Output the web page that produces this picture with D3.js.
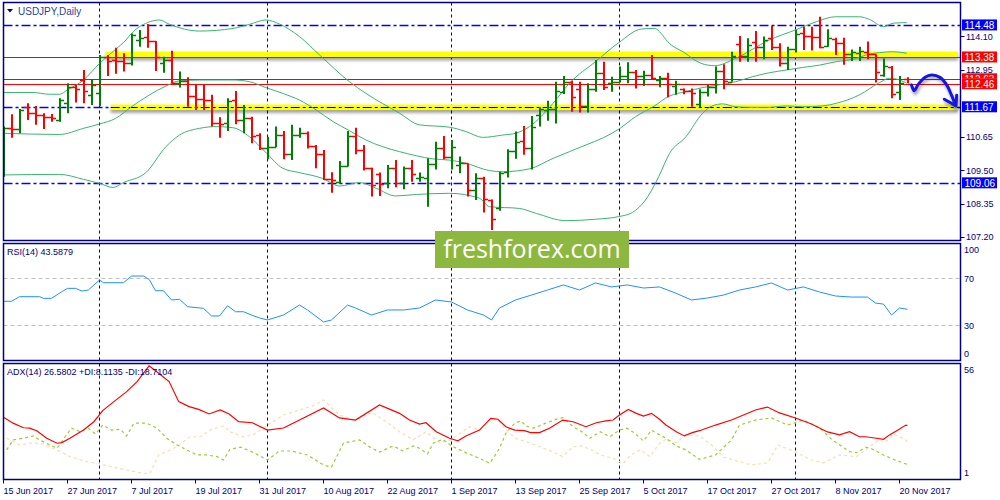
<!DOCTYPE html>
<html><head><meta charset="utf-8">
<script src="https://cdn.jsdelivr.net/npm/d3@7"></script>
<style>body{margin:0;background:#fff}svg{display:block}</style>
</head><body><svg id="c" width="1000" height="500"></svg>
<script>
// ---------------- DATA ----------------
const symbolTitle = "USDJPY,Daily";
const rsiTitle = "RSI(14) 43.5879";
const adxTitle = "ADX(14) 26.5802 +DI:8.1135 -DI:18.7104";
const xTickIdx = [0,8,16,24,32,40,48,56,64,72,80,88,96,104,112];
const xTickLabels = ["15 Jun 2017","27 Jun 2017","7 Jul 2017","19 Jul 2017","31 Jul 2017","10 Aug 2017","22 Aug 2017","1 Sep 2017","13 Sep 2017","25 Sep 2017","5 Oct 2017","17 Oct 2017","27 Oct 2017","8 Nov 2017","20 Nov 2017"];
const monthStartIdx = [12,33,56,77,99];
const priceTicks = [114.10,112.95,110.65,109.50,108.35,107.20];
const rsiTicks = [100,70,30,0];
const rsiLevels = [70,30];
const adxTicks = [56,1];

const open = [109.84,110.93,110.90,111.65,111.45,111.39,111.33,111.22,111.79,112.34,
112.59,112.08,112.13,113.39,113.28,113.25,113.16,113.96,114.08,113.93,
113.19,113.28,112.50,112.57,112.05,111.94,111.90,111.12,111.10,111.90,
111.22,111.27,110.70,110.24,110.30,110.70,110.04,110.70,110.76,110.34,
110.04,109.18,109.10,109.65,110.67,110.19,109.56,109.36,109.07,109.56,
109.07,109.56,109.21,109.21,109.71,110.24,109.96,109.67,109.73,108.81,
109.21,108.47,108.18,109.44,110.16,110.51,110.27,111.39,111.56,111.58,
112.19,112.53,112.27,111.70,112.27,112.82,112.48,112.53,112.73,112.88,
112.73,112.76,112.59,112.65,112.38,112.27,112.21,111.77,112.19,112.34,
112.91,112.53,113.81,113.43,113.88,113.73,114.04,113.73,113.19,113.64,
114.19,114.10,114.08,113.76,113.99,113.85,113.47,113.51,113.56,113.47,
112.76,113.05,112.19,112.61];
const high = [110.99,111.41,111.59,111.79,111.70,111.45,111.42,111.96,112.48,112.42,
112.93,112.59,113.45,113.45,113.70,113.51,114.19,114.31,114.51,113.93,
113.39,113.59,112.88,112.68,112.42,112.42,112.08,111.31,111.96,112.21,
111.73,111.33,110.76,110.64,110.99,110.84,111.05,110.95,110.82,110.36,
110.19,109.42,109.81,110.84,110.95,110.36,109.58,109.41,109.67,109.84,
109.62,109.84,109.41,109.90,110.47,110.67,110.53,109.96,109.73,109.39,
109.27,108.49,109.44,110.21,110.82,111.01,111.35,111.65,111.88,112.53,
112.73,112.56,112.53,112.48,113.28,113.22,112.70,113.05,113.20,112.93,
112.91,113.45,112.73,112.84,112.56,112.30,112.30,112.27,112.42,113.05,
113.13,113.56,114.10,114.02,114.27,114.08,114.44,113.85,113.73,114.31,
114.42,114.42,114.76,114.33,114.04,114.04,113.64,113.73,113.91,113.47,
113.33,113.07,112.73,112.68];
const low = [109.27,110.61,110.76,111.22,111.05,110.91,111.16,111.16,111.45,111.82,
111.79,111.73,111.70,112.73,112.80,112.88,113.09,113.73,113.70,112.90,
112.84,112.48,112.33,111.67,111.56,111.56,110.99,110.61,110.84,111.07,
110.76,110.42,110.19,109.87,110.28,109.87,109.84,110.61,110.24,109.56,
109.16,108.72,109.04,109.62,110.04,109.48,108.59,108.61,108.87,108.91,
108.84,109.10,109.10,108.24,109.52,109.87,109.52,109.39,108.59,108.47,
108.04,107.44,108.10,109.24,109.89,110.02,109.52,110.99,111.19,111.10,
112.11,111.50,111.47,111.47,112.19,112.25,112.19,112.50,112.48,112.30,
112.38,112.61,112.34,112.00,112.08,112.10,111.67,111.65,112.02,112.13,
112.27,112.53,113.22,113.22,113.22,113.30,113.62,113.05,112.93,113.53,
113.62,113.60,113.68,113.73,113.45,113.11,113.24,113.24,113.30,112.50,
112.70,111.96,111.90,112.48];
const close = [110.93,110.90,111.56,111.47,111.39,111.33,111.27,111.90,112.34,112.27,
112.22,112.42,113.39,113.25,113.25,113.19,114.14,114.02,113.93,113.39,
113.28,112.50,112.56,112.05,111.94,111.90,111.10,111.08,111.88,111.22,
111.27,110.67,110.24,110.30,110.70,110.04,110.70,110.76,110.34,110.04,
109.18,109.16,109.65,110.67,110.19,109.56,108.99,109.01,109.56,109.07,
109.56,109.35,109.27,109.71,110.24,109.96,110.30,109.75,108.81,109.21,
108.49,107.81,109.41,110.16,110.47,110.27,110.99,111.58,111.61,112.21,
112.53,112.00,111.70,112.27,112.84,112.34,112.53,112.73,112.88,112.73,
112.76,112.65,112.65,112.45,112.44,112.21,112.16,112.19,112.36,112.91,
112.57,113.41,113.43,113.79,113.73,113.96,113.73,113.19,113.64,114.17,
114.10,114.08,113.71,114.02,113.85,113.47,113.54,113.60,113.47,112.88,
113.08,112.10,112.50,112.46];

// Bollinger bands: [bar index, price]
const bbUpper = [[0,112.16],[3.7,112.16],[5.75,112.10],[7,112.10],[8,112.25],[10,112.59],[12,113.16],[14,113.64],[15.3,113.96],[16,114.19],[18,114.56],[19.5,114.65],[20.75,114.50],[24.5,114.27],[28.7,114.36],[30.75,114.50],[32.8,114.65],[34.5,114.51],[37,114.08],[39.5,113.45],[43.25,112.53],[45.3,112.13],[49.5,111.45],[52,111.05],[55.75,110.97],[57.8,110.82],[59.9,110.62],[62.4,110.70],[64,110.76],[65.75,110.99],[68.7,111.79],[70.75,112.48],[74,113.22],[76.9,113.87],[79.75,114.34],[81.4,114.36],[82.2,114.19],[83,113.91],[85.1,113.53],[87.2,113.16],[88.9,113.08],[91.5,113.33],[95.7,113.96],[99,114.31],[101.6,114.59],[104,114.76],[107,114.76],[108.25,114.67],[110,114.42],[111.25,114.54],[112.9,114.56]];
const bbMiddle = [[0,110.76],[7,110.72],[10,110.93],[12,111.08],[14,111.27],[16,111.67],[18.25,112.08],[20.3,112.38],[22,112.56],[24.5,112.59],[28.7,112.59],[30.75,112.53],[32.8,112.33],[34.9,112.13],[37,111.90],[39.1,111.56],[41.2,111.16],[43.25,110.85],[45.3,110.53],[47.4,110.30],[49.5,110.13],[51.6,109.99],[53.7,109.88],[55.75,109.84],[57.8,109.73],[60.75,109.48],[62.4,109.44],[65.75,109.54],[68.7,109.90],[70.75,110.13],[72.8,110.36],[75,110.61],[76.9,110.90],[79,111.33],[81.2,111.67],[83.25,112.04],[85.3,112.19],[87.4,112.33],[89.4,112.42],[91.5,112.53],[93.6,112.70],[95.75,112.84],[97.8,112.93],[99.9,113.02],[102,113.10],[104.1,113.22],[106.2,113.30],[108.25,113.48],[109.5,113.53],[111.2,113.56],[112.9,113.51]];
const bbLower = [[0,109.33],[7,109.35],[10,109.18],[12,109.04],[13.7,108.90],[15,109.07],[17.8,109.41],[20.3,110.30],[22,110.70],[24.5,110.93],[26.6,110.99],[28.7,110.95],[30.75,110.64],[32.8,110.10],[34.9,109.56],[37,109.41],[39.9,109.21],[42,108.95],[44.5,109.07],[46.6,108.87],[49,108.61],[51.6,108.66],[55.75,108.70],[59.5,108.53],[60.75,108.24],[64.5,108.18],[66.6,108.01],[70.3,107.76],[74,107.81],[76.9,107.90],[78.6,108.04],[80.25,108.47],[81.9,109.27],[83.25,110.07],[85.3,110.64],[87.4,111.45],[88.6,111.70],[89.9,111.77],[91.5,111.67],[93.6,111.65],[95.75,111.65],[97.8,111.70],[99.9,111.67],[102.4,111.70],[104.1,111.79],[107,112.08],[109.5,112.50],[110.75,112.65],[112,112.59],[112.9,112.48]];

const rsi = [[0,50.4],[1,50.4],[2,54.3],[4.5,54.3],[5,52.9],[6,52.9],[7.3,58.6],[8,61.4],[9,61.4],[9.8,59.1],[10.6,60],[12,68.5],[12.5,66.2],[15,66.2],[16,71.9],[17.5,71.9],[18.2,69.1],[19,59.4],[20,59.4],[21,51.5],[22,52.1],[23,45.8],[25,44.4],[26,37.9],[27,37.9],[28,46.6],[29,41.5],[30,41.5],[31,38.7],[32,36.2],[33,34.5],[35,38.7],[37,47.2],[38,43],[40,32.8],[41,34.5],[43,47.2],[44,44.7],[46,38.7],[48,43],[50,43],[52,44.7],[54,51.5],[56,49.8],[58,43],[60,38.7],[61,34.5],[62,44.7],[64,51.5],[66,55.7],[68,60],[70,64.3],[72,60],[74,66],[76,62.6],[78,64.3],[80,61.7],[82,62.6],[84,57.4],[86,51.5],[88,53.2],[90,55.7],[92,60],[94,62.6],[96,66],[98,60],[100,62.6],[102,58.3],[104,54.9],[106,54],[108,54],[109,48.9],[110,48],[111,38.7],[112,44.7],[113,43.59]];

const adx = [[0,30.5],[1.2,27.7],[2.5,25.5],[3.3,25.3],[4.2,24.0],[5.4,20.5],[6.7,18.1],[7.3,18.4],[8.3,20.5],[10,24.4],[11.3,28.4],[12.4,33.7],[13.8,38.0],[15.4,42.8],[16.7,47.6],[18.2,55.1],[19.4,51.6],[20.7,47.6],[21.9,38.0],[23.2,35.6],[24.4,34.3],[25.7,32.1],[27.1,34.0],[28.2,32.1],[29.4,28.4],[31.1,27.9],[33,24.4],[35,25.4],[37,29.2],[40,35.0],[42,30.2],[44,29.2],[47,36.4],[49.5,32.4],[50.75,29.2],[52,27.3],[52.8,27.9],[54.1,23.6],[55.75,20.5],[56.8,19.3],[57.8,21.6],[59.5,24.4],[60.9,30.0],[61.8,29.6],[62.8,26.0],[63.9,24.4],[65.1,24.1],[65.9,23.2],[67,23.2],[68.25,25.3],[69.9,29.2],[71.2,28.4],[72.8,26.0],[74.1,27.9],[75.3,28.8],[76.2,29.2],[77,31.6],[78.1,34.3],[79.1,32.4],[80,31.1],[81,32.4],[82,29.6],[82.8,26.8],[84.1,23.6],[85.1,21.6],[86.1,23.2],[87,24.1],[89,26.8],[91,29.2],[94,34.0],[95.5,35.4],[97,32.6],[99,30.2],[101,27.3],[103,23.5],[104.5,22.1],[105.75,23.6],[107,21.2],[107.8,21.2],[109.1,20.5],[110,20.0],[110.75,22.1],[111.6,24.0],[112.8,26.8],[113,26.58]];
const plusDI = [[0.4,14.9],[1.2,19.7],[2.5,20.5],[3.7,21.6],[4.5,19.7],[5.8,17.3],[6.7,15.7],[7.7,21.2],[8.5,25.3],[9.6,23.6],[10.6,25.3],[11.5,22.5],[12.4,26.8],[13.5,24.4],[14.6,24.8],[15.4,21.6],[16.3,27.7],[17.9,27.7],[19.2,25.3],[20.4,20.5],[21.7,17.3],[22.9,14.9],[24.2,12.5],[25.4,12.5],[26.7,11.7],[27.5,10.1],[28.3,15.2],[29.6,16.2],[30.8,14.5],[33,10.1],[34.5,14.4],[36,14.4],[38,12.5],[40,7.7],[41,6.7],[42.5,18.2],[44.5,19.7],[46,15.8],[47,13.9],[48.7,16.8],[49.9,14.5],[51.2,16.8],[52,15.7],[53,13.0],[53.7,18.1],[54.9,20.0],[56,16.8],[57.8,13.6],[59.5,10.9],[60.8,8.5],[62,15.7],[62.8,22.9],[63.9,27.7],[64.7,28.8],[65.3,26.4],[66.2,25.3],[67.8,27.7],[69.1,29.6],[69.9,30.3],[71.2,26.0],[72.3,23.6],[73.3,20.5],[74.6,23.6],[75.8,21.2],[77,24.4],[77.9,25.3],[78.8,23.2],[80,19.2],[81,24.4],[82,22.1],[82.8,20.5],[84.1,16.8],[85.3,14.9],[87,10.4],[89,12.5],[91,19.7],[92,26.8],[94,29.2],[96,30.2],[98,26.8],[100,29.2],[102,25.4],[103.6,19.7],[105.75,14.1],[106.6,13.6],[107.8,16.2],[108.4,15.7],[110,12.5],[111.25,10.4],[112.8,8.2],[113,8.11]];
const minusDI = [[0.4,20.5],[2,17.3],[3.7,18.4],[5,17.7],[6.2,15.7],[8.3,11.7],[10.4,9.3],[12,8.2],[13.8,6.6],[15.4,5.3],[17.5,3.7],[18.3,3.7],[19.4,12.5],[20.4,14.1],[21.7,16.5],[23.3,21.2],[24.6,21.2],[25.8,24.4],[27.5,26.4],[28.3,23.6],[30,21.2],[31.2,22.1],[33,26.8],[35,31.6],[37,34.0],[39,36.4],[40,38.8],[42,31.6],[44,29.2],[46,33],[48,28],[49.5,23.6],[51.2,19.7],[52.8,23.6],[54.5,18.4],[55.75,19.3],[56.8,22.1],[58.2,26.0],[59.5,24.4],[60.8,29.2],[61.8,29.6],[62.8,24.4],[64,20.5],[65.3,18.8],[67,16.5],[68.6,14.1],[69.9,11.7],[71.2,16.5],[72.3,16.8],[73.5,14.9],[74.6,12.5],[76.2,10.9],[77.5,8.5],[78.4,12.5],[79.6,14.9],[80.8,11.7],[82,18.1],[82.8,20.0],[84.1,18.4],[85.3,22.1],[87,21.6],[88.5,17.3],[90,11.5],[93.5,7.7],[95.5,8.7],[96.8,17.3],[98.7,14.4],[101,10.1],[102.5,8.7],[104.5,12.5],[106.6,11.7],[108.25,16.5],[109.5,19.7],[110.2,18.4],[111.25,22.5],[112,21.1],[112.8,19.7],[113,18.71]];

// Drawn objects (levels, zones, arrow) in price / bar coordinates
const dashedLevels = [114.48, 111.67, 109.06];
const solidLevels = [113.38, 112.63, 112.46];
const labelOrder = [114.48, 113.38, 112.63, 112.46, 111.67, 109.06];
const hiddenLabel = 112.63;
const zones = [[113.38, 12.7], [111.67, 13.4]];
const arrowPath = [[113.5,112.42],[113.85,112.22],[114.3,112.42],[115.2,112.68],[116.0,112.76],[117.06,112.68],[117.9,112.42],[118.5,112.07],[118.95,111.76]];
const arrowHead = [[117.6,111.93],[119.06,111.70],[119.15,112.07]];
const watermark = "freshforex.com";

// ---------------- DRAW ----------------
const svg = d3.select("#c");
const NAVY = "#000080";
const FONT = "'Liberation Sans', Arial, sans-serif";
const Lx = 3.5, Rx = 960.5;
const P = {main:[2.5,240.5], rsi:[243.5,360.5], adx:[363.5,479.5]};

const x = d3.scaleLinear().domain([0,1]).range([3.5,11.5]);
const yMain = d3.scaleLinear().domain([107.097,115.233]).range([240,3]);
const yRsi = d3.scaleLinear().domain([0,100]).range([360.5,243]);
const yAdx = d3.scaleLinear().domain([1,56]).range([479,364]);

const defs = svg.append("defs");
Object.entries(P).forEach(([k,[t,b]])=>{
  defs.append("clipPath").attr("id","clip-"+k).append("rect")
    .attr("x",Lx).attr("y",t).attr("width",Rx-Lx).attr("height",b-t);
});
const sh = defs.append("filter").attr("id","shadow").attr("x","-10%").attr("y","-50%").attr("width","120%").attr("height","300%");
sh.append("feDropShadow").attr("dx",0).attr("dy",3).attr("stdDeviation",1.6).attr("flood-color","#000").attr("flood-opacity",0.35);
const sh2 = defs.append("filter").attr("id","shadow2").attr("x","-30%").attr("y","-30%").attr("width","160%").attr("height","160%");
sh2.append("feDropShadow").attr("dx",1).attr("dy",3).attr("stdDeviation",1.5).attr("flood-color","#000").attr("flood-opacity",0.35);
// visible strip of the label that sits under the 112.46 label
defs.append("clipPath").attr("id","clip-hidden").append("rect")
  .attr("x",960).attr("y",0).attr("width",40).attr("height",Math.round(yMain(112.46))-5.5);

svg.append("rect").attr("width",1000).attr("height",500).attr("fill","#fff");

// month separators
Object.entries(P).forEach(([k,[t,b]])=>{
  svg.append("g").selectAll("line").data(monthStartIdx).join("line")
    .attr("x1",d=>Math.round(x(d))-0.5).attr("x2",d=>Math.round(x(d))-0.5)
    .attr("y1",t).attr("y2",b).attr("stroke",NAVY).attr("stroke-width",1).attr("stroke-dasharray","3,3");
});

// ---- main panel ----
const gm = svg.append("g").attr("clip-path","url(#clip-main)");
const yr = v => Math.round(yMain(v))+0.5;

gm.append("g").selectAll("line").data(dashedLevels).join("line")
  .attr("x1",Lx).attr("x2",Rx).attr("y1",yr).attr("y2",yr)
  .attr("stroke","#0000ff").attr("stroke-width",1.4).attr("stroke-dasharray","9,3,3,3");

// yellow zones
gm.append("g").selectAll("rect").data(zones).join("rect")
  .attr("x",d=>x(d[1])).attr("width",d=>958-x(d[1]))
  .attr("y",(d,i)=> i===0 ? yr(d[0])-6 : yr(d[0])-3)
  .attr("height",(d,i)=> i===0 ? 6 : 5.5)
  .attr("fill","#ffff00").attr("filter","url(#shadow)");
gm.append("g").selectAll("line").data(zones.slice(1)).join("line")
  .attr("x1",d=>x(d[1])).attr("x2",Rx).attr("y1",d=>yr(d[0])).attr("y2",d=>yr(d[0]))
  .attr("stroke","#000").attr("stroke-width",1.2).attr("stroke-dasharray","9,3,3,3");

gm.append("g").selectAll("line").data(solidLevels).join("line")
  .attr("x1",Lx).attr("x2",Rx).attr("y1",yr).attr("y2",yr)
  .attr("stroke","#ff0000").attr("stroke-width",1);

// Bollinger
const lineMain = d3.line().x(d=>x(d[0])).y(d=>yMain(d[1])).curve(d3.curveMonotoneX);
[bbUpper,bbMiddle,bbLower].forEach(s=>{
  gm.append("path").attr("d",lineMain(s)).attr("fill","none").attr("stroke","#3cb371").attr("stroke-width",1);
});

// OHLC bars
const bars = gm.append("g").selectAll("g").data(open.map((o,i)=>({i,o,h:high[i],l:low[i],c:close[i]}))).join("g")
  .attr("stroke",d=>d.c>=d.o ? "#008000" : "#ff0000");
bars.append("line").attr("x1",d=>Math.round(x(d.i))).attr("x2",d=>Math.round(x(d.i)))
  .attr("y1",d=>yMain(d.h)).attr("y2",d=>yMain(d.l)).attr("stroke-width",2);
bars.append("line").attr("x1",d=>Math.round(x(d.i))-4).attr("x2",d=>Math.round(x(d.i)))
  .attr("y1",d=>yr(d.o)).attr("y2",d=>yr(d.o)).attr("stroke-width",1.5);
bars.append("line").attr("x1",d=>Math.round(x(d.i))).attr("x2",d=>Math.round(x(d.i))+4)
  .attr("y1",d=>yr(d.c)).attr("y2",d=>yr(d.c)).attr("stroke-width",1.5);

// blue arrow
const ga = gm.append("g").attr("filter","url(#shadow2)");
ga.append("path").attr("d", d3.line().x(d=>x(d[0])).y(d=>yMain(d[1])).curve(d3.curveCatmullRom)(arrowPath))
  .attr("fill","none").attr("stroke","#1414e0").attr("stroke-width",3).attr("stroke-linecap","round");
ga.append("path").attr("d", d3.line().x(d=>x(d[0])).y(d=>yMain(d[1]))(arrowHead))
  .attr("fill","none").attr("stroke","#1414e0").attr("stroke-width",3).attr("stroke-linecap","round").attr("stroke-linejoin","round");

// title
svg.append("path").attr("d","M7,9 L13,9 L10,12.5 Z").attr("fill",NAVY);
svg.append("text").attr("x",18).attr("y",15).text(symbolTitle)
  .attr("font-family",FONT).attr("font-size",10).attr("fill","#1f3fa8");

// price axis
const ga1 = svg.append("g");
ga1.selectAll("line").data(priceTicks).join("line")
  .attr("x1",Rx).attr("x2",Rx+4).attr("y1",yr).attr("y2",yr).attr("stroke",NAVY);
ga1.selectAll("text").data(priceTicks).join("text")
  .attr("x",966).attr("y",d=>yMain(d)+3.5).text(d=>d.toFixed(2))
  .attr("font-family",FONT).attr("font-size",9).attr("fill",NAVY);

// highlighted price labels (the 112.63 one is mostly hidden by 112.46, as in the source)
const gl = svg.append("g");
labelOrder.forEach(p=>{
  const isBlue = dashedLevels.includes(p);
  const yy = yMain(p);
  const g = gl.append("g");
  if (p === hiddenLabel) g.attr("clip-path","url(#clip-hidden)");
  g.append("rect").attr("x",962).attr("y",yy-5.5).attr("width",35).attr("height",11)
    .attr("fill", isBlue ? "#0000ff" : "#ff0000");
  g.append("text").attr("x",964.5).attr("y",yy+4).text(p.toFixed(2))
    .attr("font-family",FONT).attr("font-size",10).attr("fill","#fff");
});

// ---- RSI panel ----
const gr = svg.append("g").attr("clip-path","url(#clip-rsi)");
gr.selectAll("line").data(rsiLevels).join("line")
  .attr("x1",Lx).attr("x2",Rx).attr("y1",d=>Math.round(yRsi(d))+0.5).attr("y2",d=>Math.round(yRsi(d))+0.5)
  .attr("stroke","#c0c0c0").attr("stroke-dasharray","4,3");
gr.append("path").attr("d",d3.line().x(d=>x(d[0])).y(d=>yRsi(d[1]))(rsi))
  .attr("fill","none").attr("stroke","#1e90ff").attr("stroke-width",1);
svg.append("text").attr("x",7).attr("y",255).text(rsiTitle)
  .attr("font-family",FONT).attr("font-size",9).attr("fill",NAVY);
svg.append("g").selectAll("text").data(rsiTicks).join("text")
  .attr("x",964).attr("y",d=> d===100 ? P.rsi[0]+9.5 : d===0 ? P.rsi[1]-3.5 : yRsi(d)+3.5)
  .text(d=>d).attr("font-family",FONT).attr("font-size",9).attr("fill",NAVY);

// ---- ADX panel ----
const gd = svg.append("g").attr("clip-path","url(#clip-adx)");
const lineAdx = d3.line().x(d=>x(d[0])).y(d=>yAdx(d[1]));
gd.append("path").attr("d",lineAdx(minusDI)).attr("fill","none").attr("stroke","#f5deb3").attr("stroke-width",1.2).attr("stroke-dasharray","3,3");
gd.append("path").attr("d",lineAdx(plusDI)).attr("fill","none").attr("stroke","#9acd32").attr("stroke-width",1.2).attr("stroke-dasharray","3,3");
gd.append("path").attr("d",lineAdx(adx)).attr("fill","none").attr("stroke","#ff0000").attr("stroke-width",1.2);
svg.append("text").attr("x",7).attr("y",375).text(adxTitle)
  .attr("font-family",FONT).attr("font-size",9).attr("fill",NAVY);
svg.append("g").selectAll("text").data(adxTicks).join("text")
  .attr("x",964).attr("y",d=> d===56 ? P.adx[0]+9.5 : P.adx[1]-3.5)
  .text(d=>d).attr("font-family",FONT).attr("font-size",9).attr("fill",NAVY);

// ---- panel frames ----
Object.values(P).forEach(([t,b])=>{
  svg.append("rect").attr("x",Lx).attr("y",t).attr("width",Rx-Lx).attr("height",b-t)
    .attr("fill","none").attr("stroke",NAVY).attr("stroke-width",1.5);
});

// ---- x axis ----
const gx = svg.append("g");
gx.selectAll("line").data(xTickIdx).join("line")
  .attr("x1",d=>Math.round(x(d))-0.5).attr("x2",d=>Math.round(x(d))-0.5)
  .attr("y1",P.adx[1]).attr("y2",P.adx[1]+4).attr("stroke",NAVY);
gx.selectAll("text").data(xTickIdx).join("text")
  .attr("x",d=>Math.round(x(d))-0.5).attr("y",494).text((d,i)=>xTickLabels[i])
  .attr("font-family",FONT).attr("font-size",9).attr("fill",NAVY);

// ---- watermark ----
svg.append("rect").attr("x",435).attr("y",231).attr("width",194).attr("height",37).attr("fill","#8db840");
svg.append("text").attr("x",532).attr("y",258).attr("text-anchor","middle").text(watermark)
  .attr("font-family","'Open Sans', 'Liberation Sans', sans-serif").attr("font-size",25).attr("fill","#fff");
</script></body></html>
